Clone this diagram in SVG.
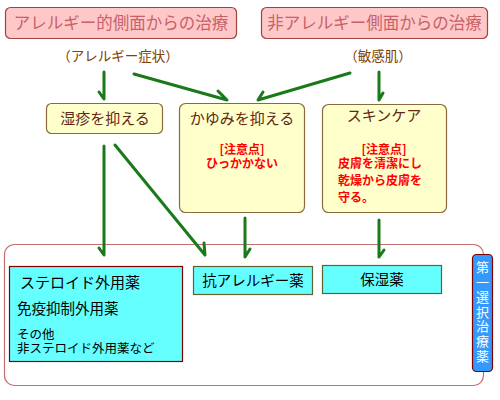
<svg xmlns="http://www.w3.org/2000/svg" width="500" height="400" viewBox="0 0 500 400">
<style>
text{font-family:"Noto Sans CJK JP","Noto Sans CJK SC",sans-serif;}
.hdr rect{fill:#ffc8c8;stroke:#a04040;stroke-width:1.2;}
.hdr text{fill:#c8606a;font-size:16.5px;text-anchor:middle;}
.sub{fill:#804000;font-size:13.5px;text-anchor:middle;}
.yb rect{fill:#ffffcc;stroke:#8a6a3a;stroke-width:1.2;}
.yb .t{fill:#602818;font-size:15px;text-anchor:middle;}
.red{fill:#ff0000;font-size:12px;font-weight:bold;}
.cy rect{fill:#66ffff;stroke-width:1.2;}
.cy text{fill:#000;}
.conn path{fill:none;stroke:#1a7a1a;stroke-width:3;stroke-linecap:round;stroke-linejoin:round;}
</style>
<g id="container"><rect x="4.5" y="244.5" width="479" height="141" rx="10" fill="none" stroke="#c07070" stroke-width="1.2"/></g>
<g id="allergy-side" class="hdr"><rect x="5.5" y="7.5" width="231" height="31" rx="5"/><text x="121" y="29">アレルギー的側面からの治療</text></g>
<g id="non-allergy-side" class="hdr"><rect x="261.5" y="7.5" width="226" height="31" rx="5"/><text x="374.5" y="29">非アレルギー側面からの治療</text></g>
<g id="allergy-symptom"><text class="sub" x="118" y="61">（アレルギー症状）</text></g>
<g id="sensitive-skin"><text class="sub" x="378" y="61">（敏感肌）</text></g>
<g id="suppress-eczema" class="yb"><rect x="46.5" y="103.5" width="116" height="30" rx="5"/><text class="t" x="105" y="124">湿疹を抑える</text></g>
<g id="suppress-itch" class="yb"><rect x="179.5" y="103.5" width="125" height="109" rx="6"/><text class="t" x="242" y="124">かゆみを抑える</text><text class="red" text-anchor="middle"><tspan x="242" y="154">[注意点]</tspan><tspan x="242" y="168">ひっかかない</tspan></text></g>
<g id="skincare" class="yb"><rect x="322.5" y="104.5" width="124" height="108" rx="6"/><text class="t" x="384" y="121">スキンケア</text><text class="red"><tspan x="384" y="154" text-anchor="middle">[注意点]</tspan><tspan x="338" y="168">皮膚を清潔にし</tspan><tspan x="338" y="185">乾燥から皮膚を</tspan><tspan x="338" y="202">守る。</tspan></text></g>
<g id="topical" class="cy"><rect x="9.5" y="266.5" width="173" height="95" stroke="#800000"/><text x="20" y="288" font-size="15">ステロイド外用薬</text><text x="17" y="314" font-size="14.5">免疫抑制外用薬</text><text font-size="12.5"><tspan x="17" y="339">その他</tspan><tspan x="17" y="353">非ステロイド外用薬など</tspan></text></g>
<g id="antiallergic" class="cy"><rect x="193.5" y="266.5" width="119" height="28" stroke="#606030"/><text x="253" y="286" font-size="14.5" text-anchor="middle">抗アレルギー薬</text></g>
<g id="moisturizer" class="cy"><rect x="322.5" y="265.5" width="119" height="28" stroke="#606030"/><text x="382" y="285" font-size="14.5" text-anchor="middle">保湿薬</text></g>
<g id="first-choice"><rect x="472.5" y="254.5" width="20" height="117" rx="4" fill="#3399ff" stroke="#800000" stroke-width="1.2"/><text x="482.5" y="261" fill="#fff" font-size="13" writing-mode="vertical-rl" letter-spacing="1.7">第一選択治療薬</text></g>
<g id="connectors" class="conn">
<path d="M104,72 L104,99 L99,92"/>
<path d="M134,74 L227,100 L218,91"/>
<path d="M350,73 L258,100 L263,92"/>
<path d="M379,72 L379,100 L383,93"/>
<path d="M104,146 L104,255 L99,248"/>
<path d="M115,145 L205,255 L204,243"/>
<path d="M245,218 L245,257 L250,249"/>
<path d="M379,220 L379,257 L384,250"/>
</g>
</svg>
